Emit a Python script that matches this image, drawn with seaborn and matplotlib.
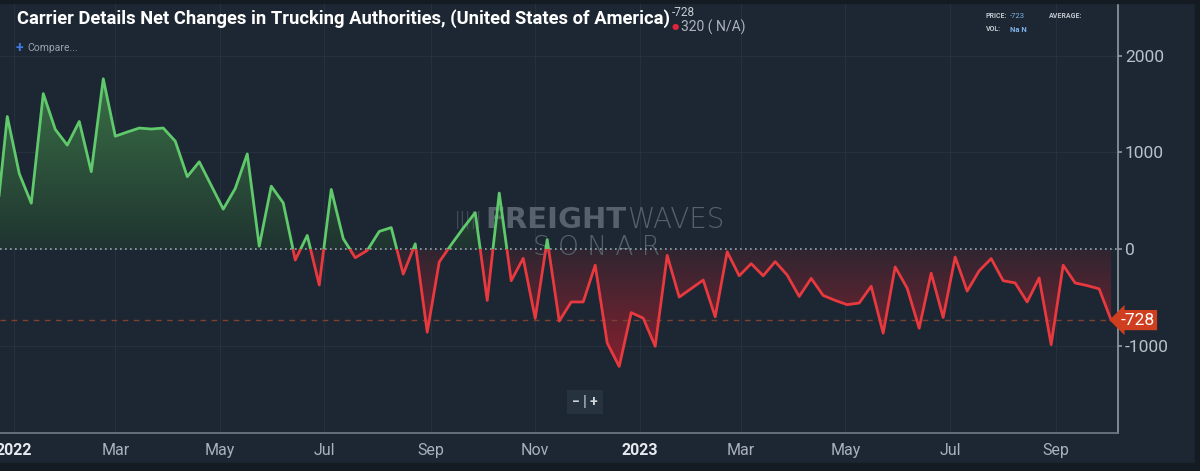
import matplotlib
matplotlib.use("Agg")
import matplotlib.pyplot as plt
import matplotlib.dates as mdates
import matplotlib.colors as mcolors
from matplotlib.patches import Rectangle
from matplotlib.path import Path
import numpy as np
import pandas as pd
import seaborn as sns

# --- data (weekly net change in trucking authorities) ---
first_week = "2021-12-21"
net_change = [
    180, 1371, 782, 477, 1607, 1238, 1076, 1320, 802, 1760,
    1168, 1211, 1252, 1242, 1252, 1117, 751, 904, 660, 416,
    629, 985, 34, 653, 480, -109, 145, -366, 619, 112,
    -85, -10, 186, 226, -254, 58, -853, -129, 50, 220,
    380, -525, 582, -322, -91, -711, 102, -738, -541, -541,
    -162, -964, -1206, -651, -708, -998, -61, -491, -403, -315,
    -694, -24, -271, -146, -271, -125, -264, -484, -298, -474,
    -525, -569, -552, -379, -863, -180, -399, -812, -244, -701,
    -78, -429, -220, -94, -322, -345, -541, -294, -981, -162,
    -345, -372, -406, -728,
]
last_value = -728
price_value = -723
change_value = 320
y_ticks = [-1000, 0, 1000, 2000]
tick_start, tick_end = "2022-01-01", "2023-09-01"
view_start, view_end = "2021-12-23 18:00", "2023-10-07"

title = "Carrier Details Net Changes in Trucking Authorities, (United States of America)"

# colours
BG = "#1c2733"
EDGE = "#141b23"
GREEN = "#5fc96b"
RED = "#e8393f"
GRID = "#25313d"
NARROW = ["Liberation Sans Narrow", "Roboto", "DejaVu Sans"]

sns.set_theme(style="dark")
plt.rcParams["font.family"] = ["Roboto", "DejaVu Sans"]
plt.rcParams["axes.unicode_minus"] = False

dates = pd.date_range(first_week, periods=len(net_change), freq="7D")
df = pd.DataFrame({"date": dates, "value": net_change})

W, H = 1200, 471
fig = plt.figure(figsize=(W / 100, H / 100), dpi=100, facecolor=BG)
# dark frame strips around the widget
fig.patches.append(Rectangle((0, 0), 1, 8 / H, transform=fig.transFigure, color=EDGE, zorder=0))
fig.patches.append(Rectangle((1195 / W, 0), 5 / W, 1, transform=fig.transFigure, color=EDGE, zorder=0))
fig.patches.append(Rectangle((0, 1 - 3 / H), 1, 3 / H, transform=fig.transFigure, color=EDGE, zorder=0))

ax = fig.add_axes([0, 38 / H, 1118 / W, 429 / H])
ax.set_facecolor(BG)

# lines: same series twice, green clipped above zero, red clipped below
sns.lineplot(data=df, x="date", y="value", ax=ax, color=GREEN, lw=2.0, zorder=4)
up_line = ax.lines[-1]
sns.lineplot(data=df, x="date", y="value", ax=ax, color=RED, lw=2.0, zorder=4)
down_line = ax.lines[-1]

x_lo = mdates.date2num(pd.Timestamp("2021-01-01"))
x_hi = mdates.date2num(pd.Timestamp("2025-01-01"))
up_line.set_clip_path(Rectangle((x_lo, 0), x_hi - x_lo, 1e5, transform=ax.transData))
down_line.set_clip_path(Rectangle((x_lo, -1e5), x_hi - x_lo, 1e5, transform=ax.transData))

vals = df["value"].to_numpy()
pos = ax.fill_between(df["date"], vals, 0, where=vals >= 0, interpolate=True,
                      facecolor="none", lw=0)
neg = ax.fill_between(df["date"], vals, 0, where=vals <= 0, interpolate=True,
                      facecolor="none", lw=0)


def gradient_fill(coll, c_near, c_far, v_far):
    clip = Path.make_compound_path(*coll.get_paths())
    near = np.array(mcolors.to_rgba(c_near))
    far = np.array(mcolors.to_rgba(c_far))
    t = np.linspace(0, 1, 256)[:, None]
    img = (near * (1 - t) + far * t)[:, None, :]
    x0 = mdates.date2num(df["date"].iloc[0])
    x1 = mdates.date2num(df["date"].iloc[-1])
    im = ax.imshow(img, extent=[x0, x1, 0, v_far], origin="lower",
                   aspect="auto", interpolation="bilinear", zorder=1)
    im.set_clip_path(clip, transform=ax.transData)


gradient_fill(pos, "#1f3430", "#3a7046", max(net_change))
gradient_fill(neg, "#2f2631", "#86202f", min(net_change))

# reference lines
ax.axhline(0, color="#9aa4ad", ls=(0, (1, 2)), lw=1.2, zorder=3)
ax.axhline(last_value, color="#80402f", ls=(0, (4, 4)), lw=1.0, zorder=3)

ax.set_xlim(pd.Timestamp(view_start), pd.Timestamp(view_end))
ax.set_ylim(-1892, 2531)
ax.set_aspect("auto")

# x ticks: every other month, year in bold
tick_dates = pd.date_range(tick_start, tick_end, freq="2MS")
tick_labels = [str(d.year) if d.month == 1 else d.strftime("%b") for d in tick_dates]
ax.set_xticks(tick_dates)
ax.set_xticklabels(tick_labels)
for lab, d in zip(ax.get_xticklabels(), tick_dates):
    lab.set_family(NARROW)
    lab.set_fontsize(11.5)
    if d.month == 1:
        lab.set_fontweight("bold")
        lab.set_color("#e6eaee")
    else:
        lab.set_color("#a9b2bb")

ax.yaxis.tick_right()
ax.set_yticks(y_ticks)
ax.set_yticklabels([str(v) for v in y_ticks])
ax.tick_params(axis="y", length=3, color="#8c959e", labelcolor="#b9c1c8",
               labelsize=12.5, pad=2)
ax.tick_params(axis="x", length=4, color="#6d7882", pad=3)
ax.set_xlabel("")
ax.set_ylabel("")

ax.grid(True, color=GRID, lw=0.8)
for side in ["left", "top"]:
    ax.spines[side].set_visible(False)
ax.spines["right"].set_color("#8c959e")
ax.spines["bottom"].set_color("#6d7882")

# last value flag on the right axis
ax.text(1.002, last_value, str(last_value), transform=ax.get_yaxis_transform(),
        ha="left", va="center", color="white", fontsize=12.5, zorder=10, clip_on=False,
        bbox=dict(boxstyle="larrow,pad=0.15", fc="#cf3f1f", ec="none"))

# watermark
wm = "#56616c"
wm_y = 1 - (220 - 4) / 429
ax.text(455 / 1118, wm_y, "|||||", transform=ax.transAxes, ha="left",
        va="center", color=wm, fontsize=12, fontweight="light",
        family=["DejaVu Sans"], zorder=2)
ax.text(627 / 1118, wm_y, "FREIGHT", transform=ax.transAxes, ha="right",
        va="center", color=wm, fontsize=21, fontweight="heavy",
        family=["DejaVu Sans"], zorder=2)
ax.text(627 / 1118, wm_y, "WAVES", transform=ax.transAxes, ha="left",
        va="center", color=wm, fontsize=20, fontweight="light",
        family=["DejaVu Sans"], zorder=2)
ax.text(597 / 1118, 1 - (248 - 4) / 429, "S O N A R", transform=ax.transAxes, ha="center",
        va="center", color=wm, fontsize=19, fontweight="light",
        family=["DejaVu Sans"], zorder=2)

# header texts
fig.text(17 / W, 1 - 19 / H, title, ha="left", va="center", color="white",
         fontsize=13.2, fontweight="bold", family=NARROW)
fig.text(672 / W, 1 - 13 / H, str(last_value), ha="left", va="center",
         color="#c5ccd3", fontsize=8.5)
fig.text(672 / W, 1 - 27 / H, "\u25cf", ha="left", va="center", color="#e0243c",
         fontsize=6, family=["DejaVu Sans"])
fig.text(681 / W, 1 - 27 / H, f"{change_value} ( N/A)", ha="left", va="center",
         color="#aeb5bd", fontsize=10)
fig.text(16 / W, 1 - 48 / H, "+", ha="left", va="center", color="#3f7be0",
         fontsize=10, fontweight="bold")
fig.text(27 / W, 1 - 48 / H, "Compare...", ha="left", va="center", color="#9aa3ac",
         fontsize=7.5)
fig.text(986 / W, 1 - 16 / H, "PRICE:", ha="left", va="center", color="#c0c6cc",
         fontsize=5, fontweight="bold")
fig.text(1010 / W, 1 - 16 / H, str(price_value), ha="left", va="center", color="#7eb2e8",
         fontsize=5.5)
fig.text(1049 / W, 1 - 16 / H, "AVERAGE:", ha="left", va="center", color="#c0c6cc",
         fontsize=5, fontweight="bold")
fig.text(986 / W, 1 - 29 / H, "VOL:", ha="left", va="center", color="#c0c6cc",
         fontsize=5, fontweight="bold")
fig.text(1010 / W, 1 - 29 / H, "Na N", ha="left", va="center", color="#7eb2e8",
         fontsize=5.5, fontweight="bold")

# zoom buttons
fig.text(585 / W, 1 - 402 / H, "\u2212 | +", ha="center", va="center", color="#d0d5da",
         fontsize=10, fontweight="bold",
         bbox=dict(boxstyle="square,pad=0.35", fc="#26333f", ec="none"))

fig.savefig("out.png", dpi=100, facecolor=BG)
